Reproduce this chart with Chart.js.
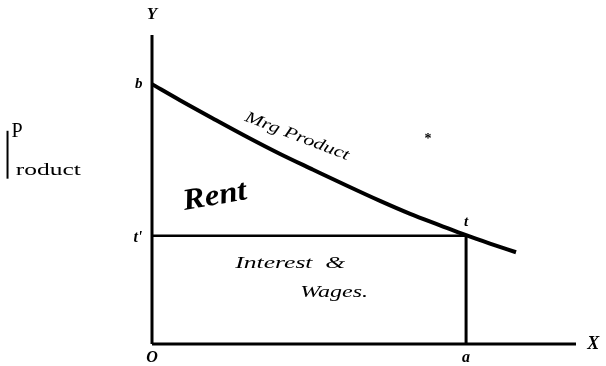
<!DOCTYPE html>
<html>
<head>
<meta charset="utf-8">
<script src="https://cdn.jsdelivr.net/npm/chart.js@4/dist/chart.umd.min.js"></script>
<style>
  body { margin: 0; background: #fff; }
  canvas { display: block; }
</style>
</head>
<body>
<canvas id="chart" width="606" height="366"></canvas>
<script>
// marginal product curve (x = labour/capital units, y = product)
const curveX = [0, 0.89, 1.94, 3.03, 4.08, 5.13, 6.21, 7.26, 8.22, 9.17, 10, 10.76, 11.59];
const curveY = [8.41, 7.89, 7.3, 6.7, 6.15, 5.64, 5.12, 4.63, 4.21, 3.84, 3.52, 3.25, 2.97];

const pointA = 10;      // O-a along X
const levelT = 3.5;     // height of t' (interest & wages)
const xMax = 13.5;
const yMax = 10;

const ink = '#000';

// text placed in data units (sx = horizontal stretch for the hand-written words)
const labels = [
  { text: 'Y', x: 0, y: 10.65, font: 'italic bold 17px "Liberation Serif"' },
  { text: 'X', x: 14.05, y: 0, font: 'italic bold 18px "Liberation Serif"' },
  { text: 'O', x: 0, y: -0.45, font: 'italic bold 16px "Liberation Serif"' },
  { text: 'a', x: pointA, y: -0.45, font: 'italic bold 16px "Liberation Serif"' },
  { text: 'b', x: -0.42, y: 8.41, font: 'italic bold 15px "Liberation Serif"' },
  { text: "t'", x: -0.45, y: 3.43, font: 'italic bold 16px "Liberation Serif"' },
  { text: 't', x: pointA, y: 3.95, font: 'italic bold 15px "Liberation Serif"' },
  { text: 'Rent', x: 2.0, y: 4.76, font: 'italic bold 30px "Liberation Serif"', rot: -10, sx: 1.1 },
  { text: 'Mrg Product', x: 4.62, y: 6.72, font: 'italic 16px "Liberation Serif"', rot: 21, sx: 1.35 },
  { text: 'Interest  &', x: 4.4, y: 2.59, font: 'italic 16px "Liberation Serif"', sx: 1.6 },
  { text: 'Wages.', x: 5.8, y: 1.65, font: 'italic 16px "Liberation Serif"', sx: 1.5 },
  { text: 'P', x: -4.3, y: 6.86, font: '20px "Liberation Serif"' },
  { text: 'roduct', x: -3.3, y: 5.6, font: '17px "Liberation Serif"', sx: 1.5 },
  { text: '*', x: 8.79, y: 6.62, font: 'bold 14px "Liberation Serif"' }
];

const textPlugin = {
  id: 'diagramText',
  afterDatasetsDraw(chart) {
    const { ctx, scales } = chart;
    ctx.save();
    ctx.fillStyle = ink;
    ctx.textAlign = 'center';
    ctx.textBaseline = 'middle';
    labels.forEach(l => {
      const px = scales.x.getPixelForValue(l.x);
      const py = scales.y.getPixelForValue(l.y);
      ctx.save();
      ctx.translate(px, py);
      if (l.rot) ctx.rotate(l.rot * Math.PI / 180);
      if (l.sx) ctx.scale(l.sx, 1);
      ctx.font = l.font;
      ctx.fillText(l.text, 0, 0);
      ctx.restore();
    });
    // stem of the hand-drawn "P" running down into "roduct"
    const sx = scales.x.getPixelForValue(-4.6);
    ctx.strokeStyle = ink;
    ctx.lineWidth = 2;
    ctx.beginPath();
    ctx.moveTo(sx, scales.y.getPixelForValue(6.9));
    ctx.lineTo(sx, scales.y.getPixelForValue(5.35));
    ctx.stroke();
    ctx.restore();
  }
};

function seg(x0, y0, x1, y1) {
  return [{ x: x0, y: y0 }, { x: x1, y: y1 }];
}

const lineStyle = { showLine: true, pointRadius: 0, borderColor: ink, fill: false, clip: false };

new Chart(document.getElementById('chart').getContext('2d'), {
  type: 'scatter',
  data: {
    datasets: [
      { ...lineStyle, label: 'Mrg Product', data: curveX.map((x, i) => ({ x: x, y: curveY[i] })),
        borderWidth: 4, tension: 0.4, cubicInterpolationMode: 'monotone' },
      { ...lineStyle, label: 'Y axis', data: seg(0, 0, 0, yMax), borderWidth: 3 },
      { ...lineStyle, label: 'X axis', data: seg(0, 0, xMax, 0), borderWidth: 3 },
      { ...lineStyle, label: "t' t", data: seg(0, levelT, pointA, levelT), borderWidth: 2.5 },
      { ...lineStyle, label: 'a t', data: seg(pointA, 0, pointA, levelT), borderWidth: 3 }
    ]
  },
  options: {
    responsive: false,
    animation: false,
    layout: { padding: { left: 152, top: 35, right: 30, bottom: 22 } },
    scales: {
      x: { type: 'linear', display: false, min: 0, max: xMax },
      y: { type: 'linear', display: false, min: 0, max: yMax }
    },
    plugins: {
      legend: { display: false },
      tooltip: { enabled: false }
    }
  },
  plugins: [textPlugin]
});
</script>
</body>
</html>
